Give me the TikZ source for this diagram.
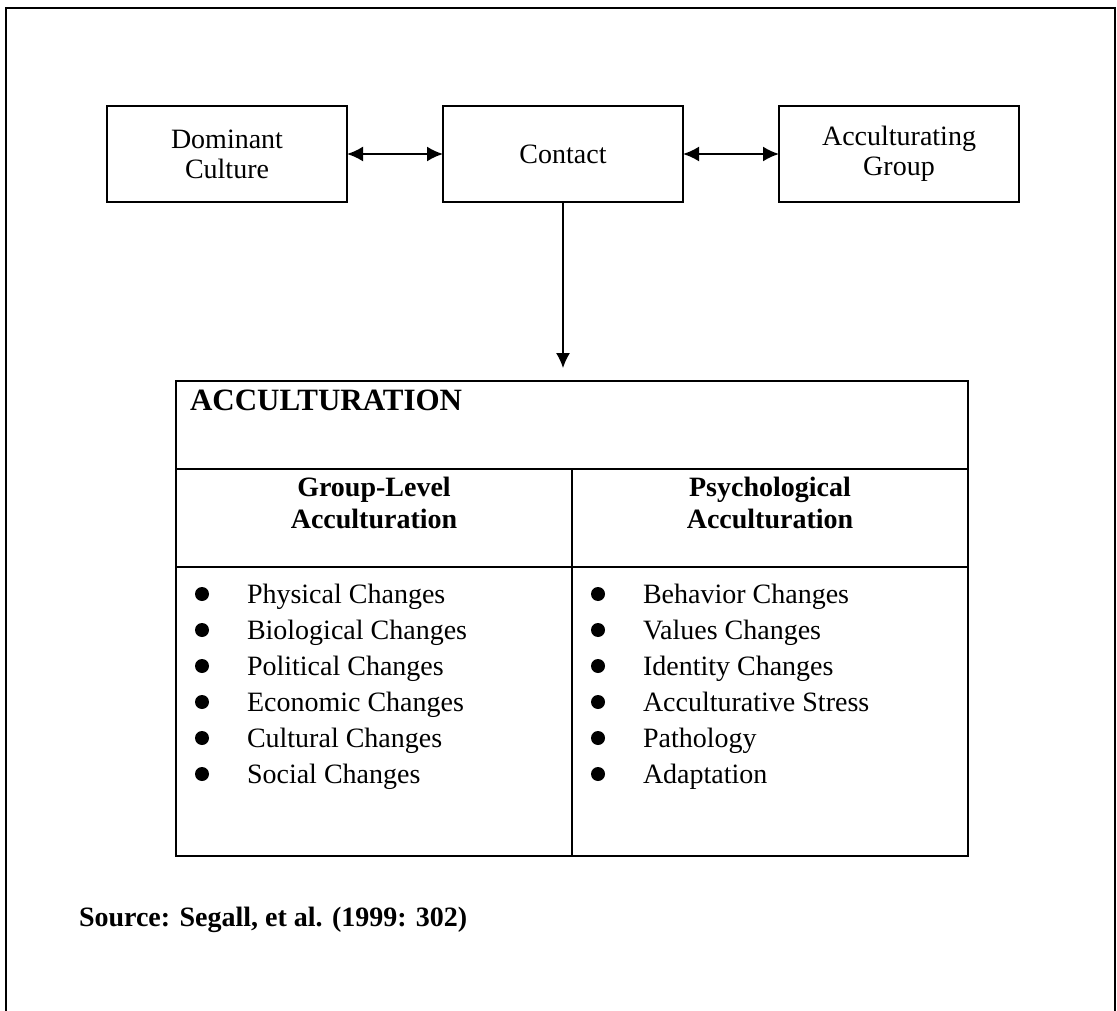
\documentclass[tikz,border=0pt]{standalone}
\usepackage{fontspec}
\setmainfont{Liberation Serif}
\usetikzlibrary{arrows.meta}

\begin{document}
\begin{tikzpicture}[x=1pt,y=-1pt,
  every node/.style={inner sep=0pt, outer sep=0pt},
  txt/.style={font=\fontsize{28}{30}\selectfont},
  hdr/.style={font=\bfseries\fontsize{28}{33}\selectfont, align=center},
  topbox/.style={draw, line width=1.8pt, minimum width=240pt, minimum height=96pt,
    align=center, txt},
  link/.style={line width=2pt, {Latex[length=16pt,width=15pt]}-{Latex[length=16pt,width=15pt]}},
  feed/.style={line width=1.3pt, -{Latex[length=15pt,width=14pt]}},
  rule/.style={line width=2pt},
  item/.style={font=\fontsize{28}{32}\selectfont, anchor=base west},
  dot/.style={fill=black}
]
\useasboundingbox (0,0) rectangle (1117,1011);

% page frame (open at the bottom)
\draw[line width=2.4pt] (6,1011) -- (6,8) -- (1115,8) -- (1115,1011);

% the three parties in contact
\node[topbox] (dom) at (227,154) {Dominant\\Culture};
\node[topbox] (con) at (563,154) {Contact};
\node[topbox] (grp) at (899,154) {Acculturating\\Group};

\draw[link] (dom.east) -- (con.west);
\draw[link] (con.east) -- (grp.west);

% acculturation table
\node[draw, rule, minimum width=792pt, minimum height=475pt] (acc) at (572,618.5) {};
\coordinate (accin) at (563,368);
\draw[feed] (con.south) -- (accin);

\draw[rule] (176,469) -- (968,469);
\draw[rule] (176,567) -- (968,567);
\draw[rule] (572,469) -- (572,856);

\node[anchor=base west, font=\bfseries\fontsize{31}{36}\selectfont] (acctitle) at (190,410) {ACCULTURATION};

\node[hdr, anchor=base] (grouphd) at (374,496) {Group-Level};
\node[hdr, anchor=base] (grouphd2) at (374,528) {Acculturation};
\node[hdr, anchor=base] (psyhd) at (770,496) {Psychological};
\node[hdr, anchor=base] (psyhd2) at (770,528) {Acculturation};

% bullet lists
\foreach \y/\a/\b [count=\i] in {
  603/Physical Changes/Behavior Changes,
  639/Biological Changes/Values Changes,
  675/Political Changes/Identity Changes,
  711/Economic Changes/Acculturative Stress,
  747/Cultural Changes/Pathology,
  783/Social Changes/Adaptation} {
  \fill[dot] (202,\y-9) circle (7pt);
  \node[item] (gl\i) at (247,\y) {\a};
  \fill[dot] (598,\y-9) circle (7pt);
  \node[item] (ps\i) at (643,\y) {\b};
}

\node[anchor=base west, font=\bfseries\fontsize{28}{32}\selectfont] (src) at (79,926) {Source: Segall, et al. (1999: 302)};
\end{tikzpicture}
\end{document}
